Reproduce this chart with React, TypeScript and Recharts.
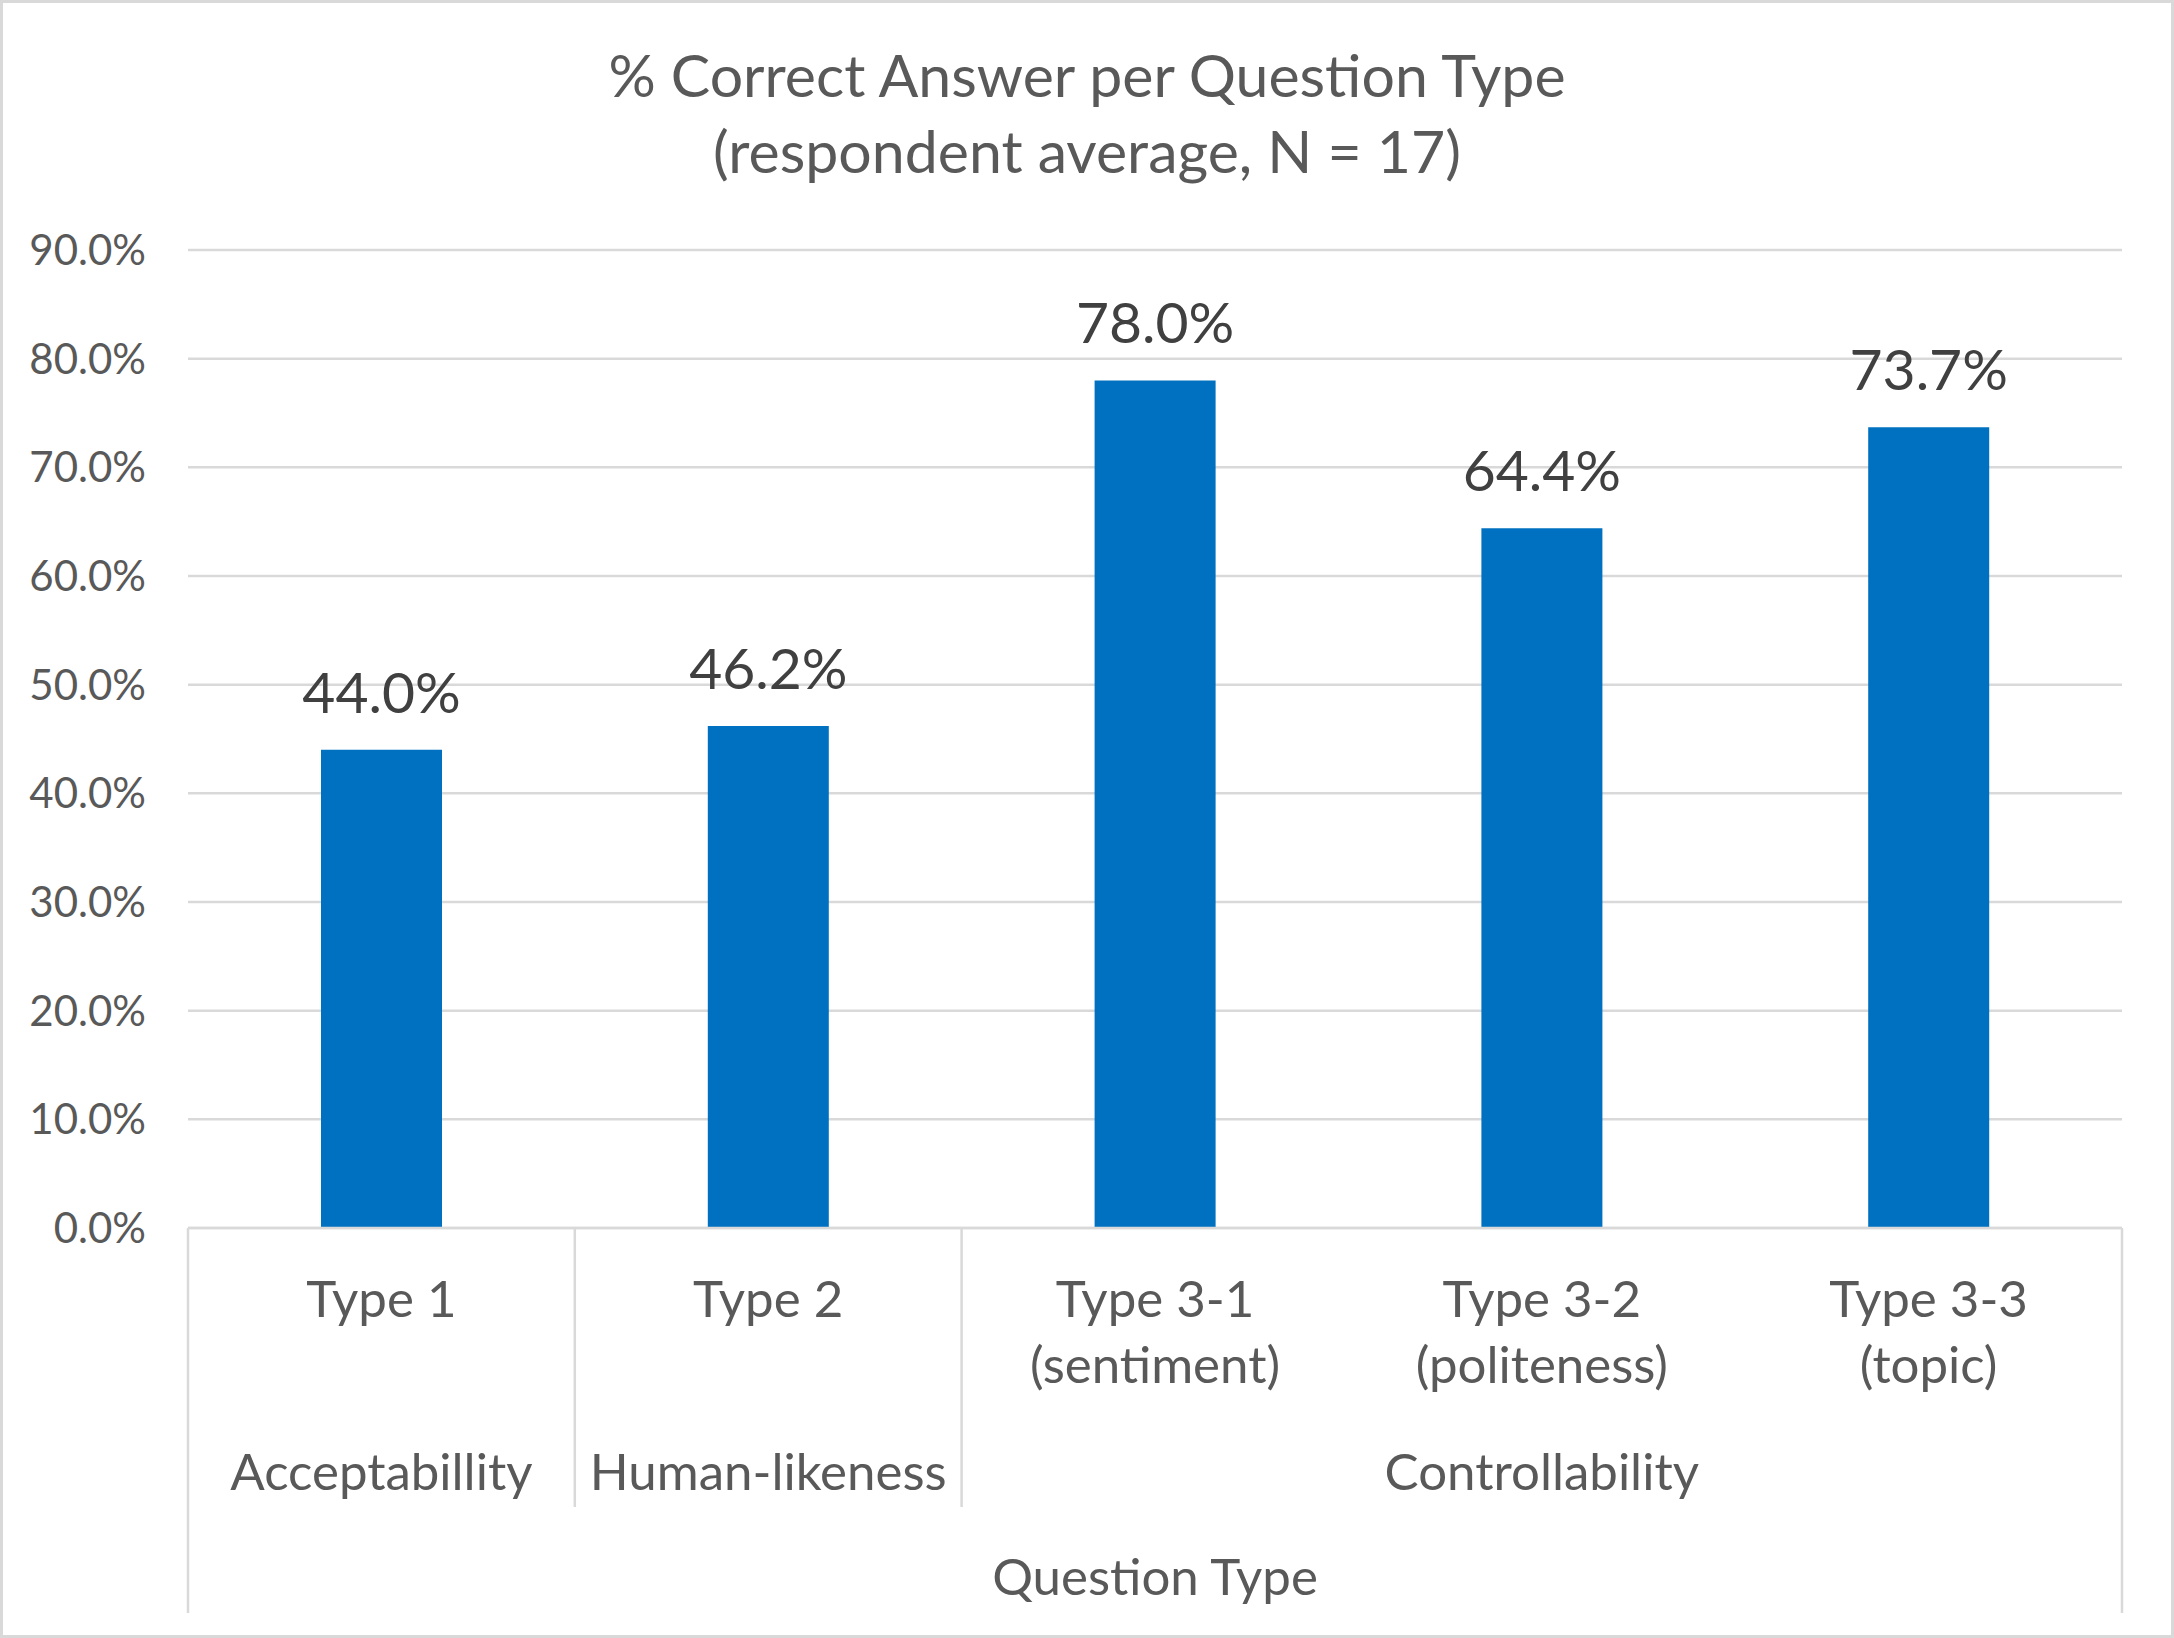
import React from "react";
import { BarChart, Bar, XAxis, YAxis, CartesianGrid, LabelList } from "recharts";

const CATEGORIES = ["Type 1", "Type 2", "Type 3-1", "Type 3-2", "Type 3-3"];
const SUBLABELS = ["", "", "(sentiment)", "(politeness)", "(topic)"];
const GROUPS = ["Acceptabillity", "Human-likeness", "Controllability", "Controllability", "Controllability"];
const VALUES = [44.0, 46.2, 78.0, 64.4, 73.7];
const Y_TICKS = [0, 10, 20, 30, 40, 50, 60, 70, 80, 90];

const TITLE = ["% Correct Answer per Question Type", "(respondent average, N = 17)"];
const AXIS_TITLE = "Question Type";

const W = 2174;
const H = 1638;
const MARGIN = { top: 250, right: 52, left: 0, bottom: 25 };
const Y_W = 188;
const X_H = 385;
const BAND = (W - MARGIN.left - MARGIN.right - Y_W) / CATEGORIES.length;

const GRAY = "#D9D9D9";
const TEXT = "#595959";
const FONT = "Lato, 'Open Sans', sans-serif";
const CAT_SIZE = 51;

const data = CATEGORIES.map((name, i) => ({ name, value: VALUES[i] }));

// group start/end index for each category
const groupSpan = (i: number) => {
  let s = i;
  while (s > 0 && GROUPS[s - 1] === GROUPS[i]) s--;
  let e = i;
  while (e < GROUPS.length - 1 && GROUPS[e + 1] === GROUPS[i]) e++;
  return [s, e];
};

const CatTick = (props: any) => {
  const { x, y, index } = props;
  const [s, e] = groupSpan(index);
  const last = index === CATEGORIES.length - 1;
  return (
    <g>
      <text x={x} y={y + 89} textAnchor="middle" fill={TEXT} fontSize={CAT_SIZE}>
        {CATEGORIES[index]}
      </text>
      {SUBLABELS[index] && (
        <text x={x} y={y + 155} textAnchor="middle" fill={TEXT} fontSize={CAT_SIZE}>
          {SUBLABELS[index]}
        </text>
      )}
      {index === s && (
        <>
          <text x={x + ((e - s) / 2) * BAND} y={y + 262} textAnchor="middle" fill={TEXT} fontSize={CAT_SIZE}>
            {GROUPS[index]}
          </text>
          <line
            x1={x - BAND / 2}
            x2={x - BAND / 2}
            y1={y}
            y2={y + (index === 0 ? X_H : 279)}
            stroke={GRAY}
            strokeWidth={2.5}
          />
        </>
      )}
      {last && (
        <line x1={x + BAND / 2} x2={x + BAND / 2} y1={y} y2={y + X_H} stroke={GRAY} strokeWidth={2.5} />
      )}
    </g>
  );
};

export default function App() {
  return (
    <div style={{ position: "absolute", left: 0, top: 0, width: W, height: H, background: "#fff", fontFamily: FONT }}>
      <svg width={W} height={200} style={{ position: "absolute", left: 0, top: 0 }}>
        <text x={W / 2} y={97} textAnchor="middle" fill={TEXT} fontSize={59}>
          {TITLE[0]}
        </text>
        <text x={W / 2} y={173} textAnchor="middle" fill={TEXT} fontSize={59}>
          {TITLE[1]}
        </text>
      </svg>
      <div style={{ position: "absolute", left: 0, top: 0 }}>
        <BarChart width={W} height={H} data={data} margin={MARGIN}>
          <CartesianGrid vertical={false} stroke={GRAY} strokeWidth={2.5} />
          <XAxis
            dataKey="name"
            height={X_H}
            interval={0}
            tickLine={false}
            tickSize={0}
            tickMargin={0}
            axisLine={{ stroke: GRAY, strokeWidth: 2.5 }}
            tick={(p: any) => <CatTick {...p} />}
            label={{ value: AXIS_TITLE, position: "insideBottom", offset: 18, fill: TEXT, fontSize: CAT_SIZE }}
          />
          <YAxis
            width={Y_W}
            domain={[0, 90]}
            ticks={Y_TICKS}
            axisLine={false}
            tickLine={false}
            tickSize={0}
            tickMargin={42}
            tickFormatter={(v: number) => `${v.toFixed(1)}%`}
            tick={{ fill: TEXT, fontSize: 42 }}
          />
          <Bar dataKey="value" fill="#0070C0" barSize={121} isAnimationActive={false}>
            <LabelList
              dataKey="value"
              position="top"
              offset={37}
              fill="#404040"
              fontSize={57}
              formatter={(v: any) => `${Number(v).toFixed(1)}%`}
            />
          </Bar>
        </BarChart>
      </div>
      <div
        style={{
          position: "absolute",
          left: 0,
          top: 0,
          width: W,
          height: H,
          boxSizing: "border-box",
          border: `3px solid ${GRAY}`,
          pointerEvents: "none",
        }}
      />
    </div>
  );
}
